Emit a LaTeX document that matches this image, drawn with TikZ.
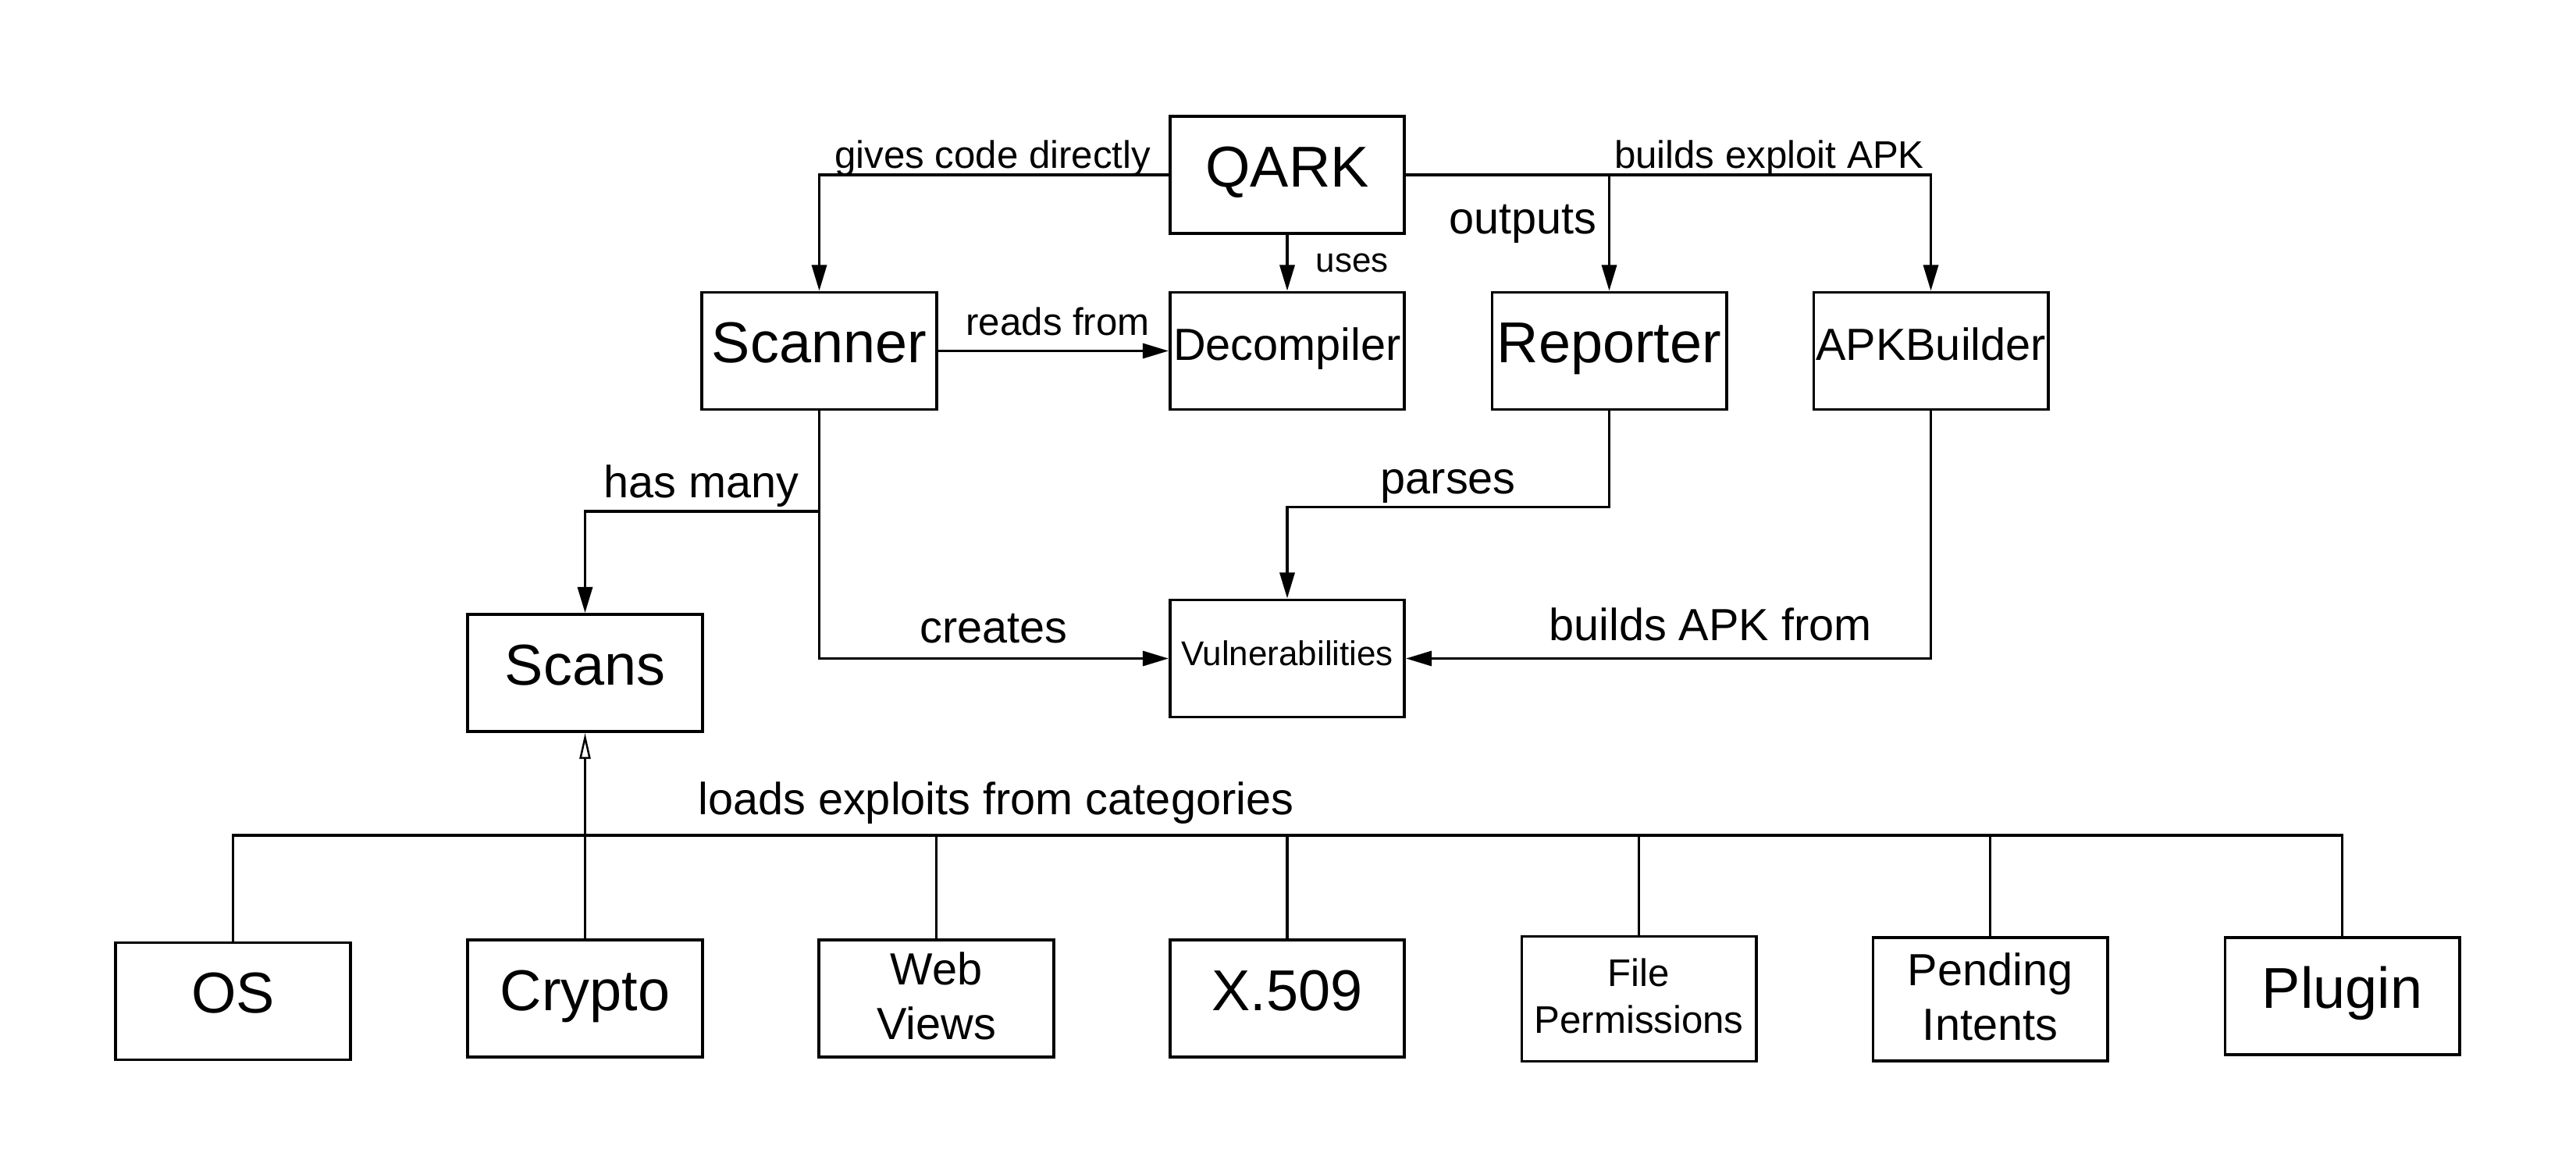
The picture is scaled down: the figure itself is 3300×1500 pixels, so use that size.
\documentclass[tikz,border=0pt]{standalone}
\usepackage{fontspec}
\setmainfont{Liberation Sans}
\usetikzlibrary{arrows.meta}

\begin{document}
\begin{tikzpicture}[x=0.01cm, y=-0.01cm,
        txtbig/.style={font=\fontsize{21}{25}\selectfont},
        txtmid/.style={font=\fontsize{16.4}{19.8}\selectfont},
        txtsmall/.style={font=\fontsize{14}{17}\selectfont},
        txttiny/.style={font=\fontsize{12.5}{15}\selectfont},
        box/.style={draw, line width=1.1pt, minimum width=3cm, minimum height=1.5cm, inner sep=0pt, align=center, text depth=2.1pt},
        bigbox/.style={box, txtbig, text height=15.1pt, text depth=6.3pt},
        midbox/.style={box, txtmid, text height=11.8pt, text depth=4.9pt},
        tinybox/.style={box, txttiny, text height=9pt, text depth=3.75pt},
        lbl/.style={inner sep=1pt},
        link/.style={line width=0.95pt},
        arr/.style={link, -{Triangle[length=9.4pt, width=5.4pt]}},
        openarr/.style={line width=0.7pt, -{Triangle[open, length=9.4pt, width=4pt]}}]

    \useasboundingbox (0,0) rectangle (3300,1500);

    \node[bigbox] (qark) at (1649,224) {QARK};
    \node[bigbox] (scanner) at (1049.5,449.5) {Scanner};
    \node[midbox] (decomp) at (1649,449.5) {Decompiler};
    \node[bigbox] (reporter) at (2061.5,449.5) {Reporter};
    \node[midbox] (apkb) at (2473.5,449.5) {APKBuilder};
    \node[bigbox] (scans) at (749.5,862) {Scans};
    \node[tinybox] (vulns) at (1649,843.5) {Vulnerabilities};

    \node[bigbox] (os) at (298.5,1282.5) {OS};
    \node[bigbox] (crypto) at (749.5,1279) {Crypto};
    \node[box, txtmid] (webviews) at (1199.5,1279) {Web\\Views};
    \node[bigbox] (x509) at (1649,1279) {X.509};
    \node[box, txtsmall, minimum height=1.6cm] (fileperm) at (2099.5,1279.5) {File\\Permissions};
    \node[box, txtmid, minimum height=1.58cm] (pending) at (2549.5,1280) {Pending\\Intents};
    \node[bigbox] (plugin) at (3000.5,1276) {Plugin};

    \coordinate (fork) at (1049.5,655);
    \coordinate (cat) at (749.5,1070);

    \draw[arr] (qark.west) -| node[lbl, txtsmall, pos=0, anchor=south east, xshift=-5pt, yshift=-2pt] {gives code directly} (scanner.north);
    \draw[arr] (qark.south) -- node[lbl, txttiny, right=9pt] {uses} (decomp.north);
    \draw[arr] (qark.east) -| node[lbl, txtsmall, pos=0.5, anchor=south east, xshift=-1pt, yshift=-2pt] {builds exploit APK} (apkb.north);
    \draw[arr] (qark.east -| reporter.north) -- node[lbl, txtmid, left=3pt, pos=0.42] {outputs} (reporter.north);
    \draw[arr] (scanner) -- node[lbl, txtsmall, above=4pt, pos=0.52] {reads from} (decomp);

    \draw[link] (scanner.south) -- (fork);
    \draw[arr] (fork) -| node[lbl, txtmid, pos=0, anchor=south east, xshift=-6pt] {has many} (scans.north);
    \draw[arr] (fork) |- node[lbl, txtmid, pos=0.75, above=4pt] {creates} (vulns.west);
    \draw[arr] (reporter.south) -- ++(0,123) -| node[lbl, txtmid, pos=0.25, anchor=south] {parses} (vulns.north);
    \draw[arr] (apkb.south) |- node[lbl, txtmid, pos=0.71, above=5pt] {builds APK from} (vulns.east);

    \foreach \c in {os,webviews,x509,fileperm,pending,plugin}
        \draw[link] (\c.north) |- (cat);
    \draw[openarr] (crypto.north) -- (scans.south);
    \path (cat) -- node[lbl, txtmid, pos=0.585, above=3pt] {loads exploits from categories} (cat -| x509.north);

\end{tikzpicture}
\end{document}
